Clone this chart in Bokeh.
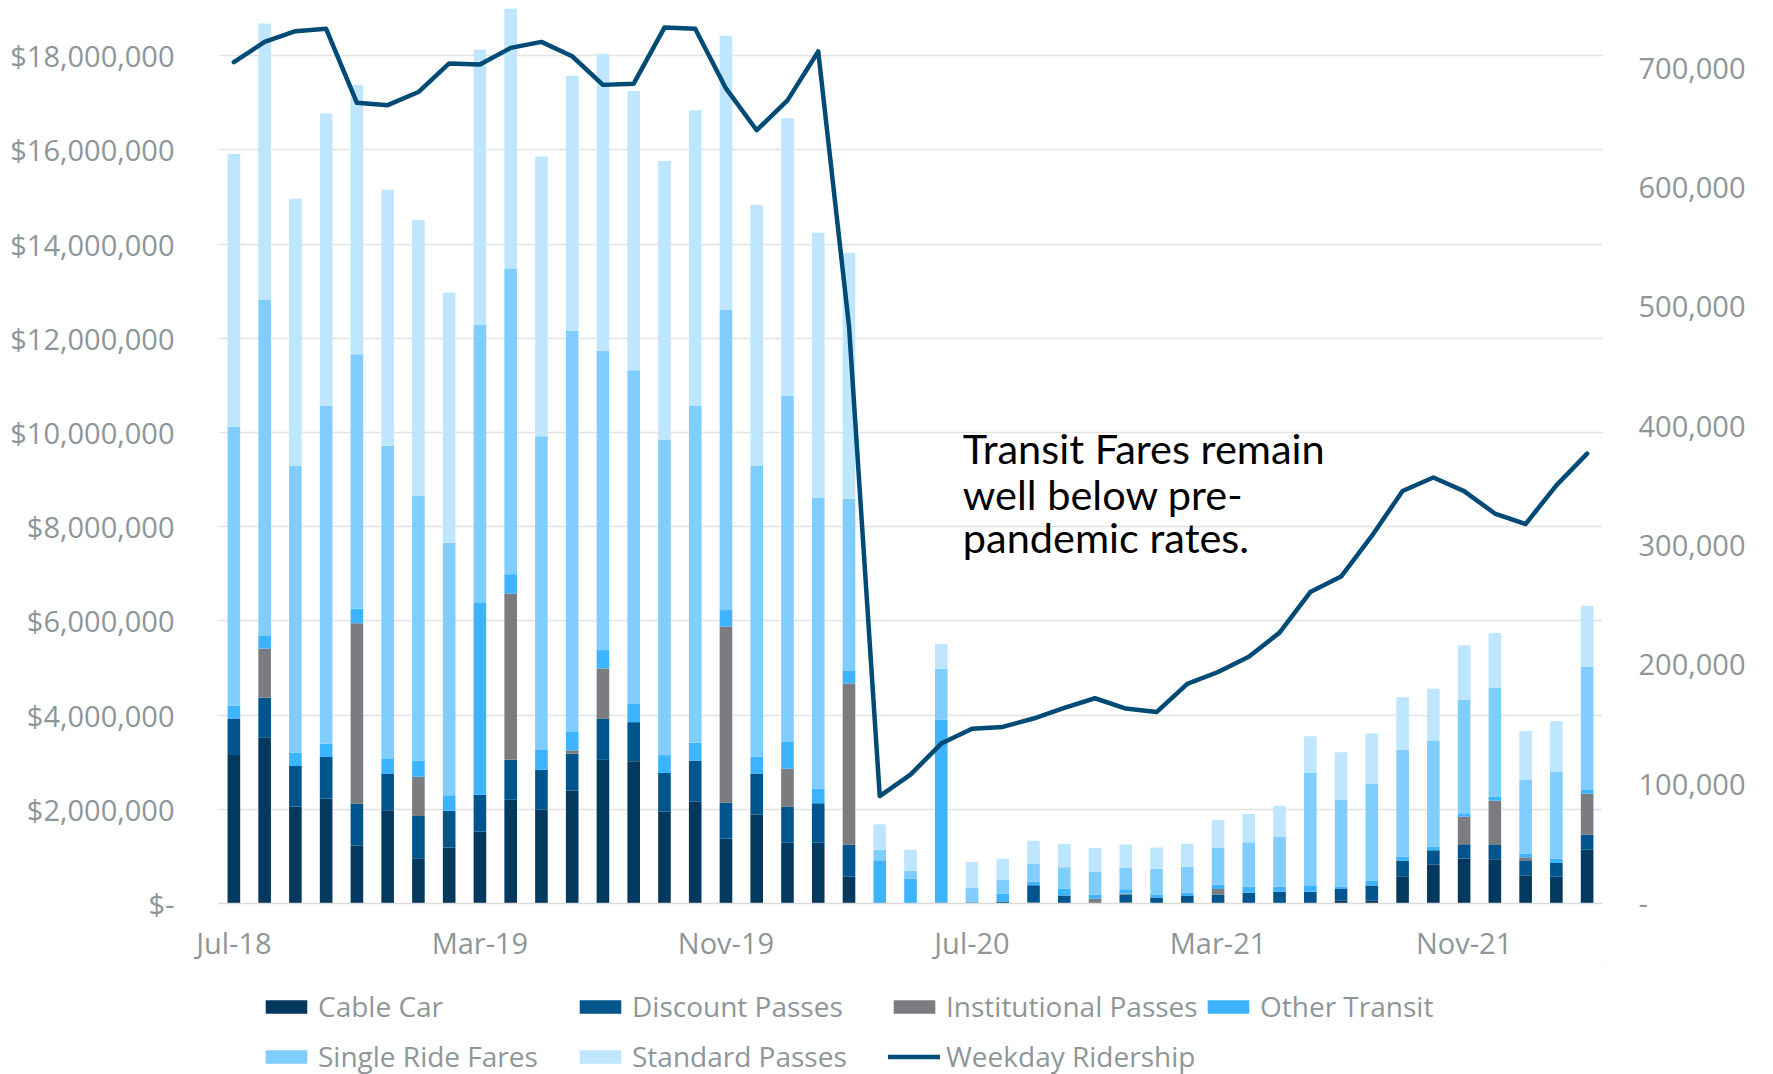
from bokeh.plotting import figure
from bokeh.layouts import column
from bokeh.models import (ColumnDataSource, Range1d, LinearAxis, FixedTicker,
                          NumeralTickFormatter, Legend, LegendItem, Label)
from bokeh.core.properties import value
from bokeh.embed import file_html
from bokeh.resources import INLINE

# ---------------- data ----------------
months = ["Jul-18", "Aug-18", "Sep-18", "Oct-18", "Nov-18", "Dec-18",
          "Jan-19", "Feb-19", "Mar-19", "Apr-19", "May-19", "Jun-19",
          "Jul-19", "Aug-19", "Sep-19", "Oct-19", "Nov-19", "Dec-19",
          "Jan-20", "Feb-20", "Mar-20", "Apr-20", "May-20", "Jun-20",
          "Jul-20", "Aug-20", "Sep-20", "Oct-20", "Nov-20", "Dec-20",
          "Jan-21", "Feb-21", "Mar-21", "Apr-21", "May-21", "Jun-21",
          "Jul-21", "Aug-21", "Sep-21", "Oct-21", "Nov-21", "Dec-21",
          "Jan-22", "Feb-22", "Mar-22"]

tick_labels = ["Jul-18", "Mar-19", "Nov-19", "Jul-20", "Mar-21", "Nov-21"]

# monthly fare revenue, millions of dollars
cable_car = [3.15, 3.53, 2.06, 2.23, 1.23, 1.98, 0.96, 1.19, 1.53, 2.20, 1.99, 2.40,
             3.05, 3.02, 1.95, 2.16, 1.38, 1.89, 1.29, 1.29, 0.57, 0.00, 0.00, 0.02,
             0.00, 0.00, 0.02, 0.00, 0.00, 0.02, 0.00, 0.00, 0.00, 0.00, 0.00, 0.00,
             0.06, 0.06, 0.58, 0.82, 0.95, 0.94, 0.59, 0.57, 1.14]
discount_passes = [0.78, 0.84, 0.86, 0.88, 0.89, 0.77, 0.90, 0.78, 0.78, 0.85, 0.85, 0.78,
                   0.88, 0.83, 0.82, 0.87, 0.76, 0.87, 0.77, 0.84, 0.68, 0.00, 0.00, 0.00,
                   0.02, 0.04, 0.37, 0.17, 0.00, 0.17, 0.13, 0.16, 0.19, 0.23, 0.25, 0.25,
                   0.25, 0.32, 0.33, 0.31, 0.31, 0.30, 0.31, 0.29, 0.32]
institutional_passes = [0.00, 1.04, 0.00, 0.00, 3.83, 0.00, 0.83, 0.00, 0.00, 3.53, 0.00, 0.07,
                        1.06, 0.00, 0.00, 0.00, 3.74, 0.00, 0.80, 0.00, 3.42, 0.00, 0.00, 0.00,
                        0.00, 0.00, 0.00, 0.00, 0.10, 0.02, 0.00, 0.00, 0.12, 0.00, 0.00, 0.00,
                        0.00, 0.00, 0.00, 0.00, 0.58, 0.94, 0.08, 0.00, 0.87]
other_transit = [0.27, 0.27, 0.28, 0.28, 0.31, 0.32, 0.34, 0.33, 4.07, 0.41, 0.42, 0.39,
                 0.39, 0.40, 0.38, 0.38, 0.35, 0.36, 0.57, 0.31, 0.28, 0.92, 0.53, 3.88,
                 0.02, 0.17, 0.07, 0.15, 0.09, 0.09, 0.06, 0.07, 0.09, 0.13, 0.11, 0.14,
                 0.05, 0.10, 0.09, 0.08, 0.06, 0.09, 0.08, 0.09, 0.08]
single_ride_fares = [5.92, 7.13, 6.09, 7.18, 5.40, 6.65, 5.63, 5.36, 5.91, 6.49, 6.66, 8.52,
                     6.36, 7.07, 6.69, 7.16, 6.38, 6.17, 7.35, 6.17, 3.64, 0.22, 0.16, 1.08,
                     0.30, 0.29, 0.39, 0.45, 0.49, 0.46, 0.54, 0.55, 0.79, 0.94, 1.06, 2.38,
                     1.85, 2.07, 2.26, 2.24, 2.42, 2.31, 1.57, 1.84, 2.61]
standard_passes = [5.79, 5.87, 5.67, 6.20, 5.72, 5.43, 5.85, 5.31, 5.84, 5.52, 5.94, 5.41,
                   6.30, 5.93, 5.92, 6.27, 5.81, 5.54, 5.89, 5.63, 5.22, 0.54, 0.45, 0.53,
                   0.54, 0.45, 0.48, 0.50, 0.50, 0.49, 0.46, 0.49, 0.58, 0.60, 0.65, 0.78,
                   1.00, 1.06, 1.12, 1.11, 1.16, 1.16, 1.03, 1.08, 1.30]

weekday_ridership = [705000, 722000, 731000, 733000, 671000, 669000, 680000, 704000, 703000,
                     717000, 722000, 710000, 686000, 687000, 734000, 733000, 683000, 648000,
                     673000, 714000, 484000, 90000, 108000, 134000, 146500, 148000, 155000,
                     164000, 172000, 163400, 160400, 184000, 194000, 206700, 227000, 261000,
                     274000, 308000, 345700, 357000, 345600, 326800, 318000, 350400, 377000]

series_names = ["Cable Car", "Discount Passes", "Institutional Passes",
                "Other Transit", "Single Ride Fares", "Standard Passes"]
series_keys = ["cable", "discount", "institutional", "other", "single", "standard"]
series_values = [cable_car, discount_passes, institutional_passes,
                 other_transit, single_ride_fares, standard_passes]
colors = ["#03395E", "#00558C", "#7B7C80", "#3DB4FF", "#80CDFF", "#BFE6FF"]
line_color = "#004A76"
text_grey = "#8E9699"

n = len(months)
data = {"x": list(range(n)), "ride": weekday_ridership}
for k, vals in zip(series_keys, series_values):
    data[k] = [v * 1_000_000 for v in vals]
src = ColumnDataSource(data)

W = 1768
H_MAIN = 965
H_LEG = 1074 - H_MAIN

# ---------------- main chart ----------------
p = figure(width=W, height=H_MAIN, output_backend="svg", toolbar_location=None,
           x_range=Range1d(-0.5, n - 0.5), y_range=Range1d(0, 19_000_000),
           min_border_left=218, min_border_right=166, min_border_top=8,
           min_border_bottom=62)
p.outline_line_color = None
p.background_fill_color = "white"
p.border_fill_color = "white"

p.extra_y_ranges = {"ride": Range1d(0, 750_000)}

# left axis
p.yaxis.ticker = FixedTicker(ticks=[i * 2_000_000 for i in range(10)])
p.yaxis.formatter = NumeralTickFormatter(format="$0,0")
p.yaxis.major_label_overrides = {0: "$-"}
p.yaxis.axis_line_color = None
p.yaxis.major_tick_line_color = None
p.yaxis.minor_tick_line_color = None
p.yaxis.major_label_standoff = 38
p.yaxis.major_label_text_font = "Open Sans"
p.yaxis.major_label_text_font_size = "29px"
p.yaxis.major_label_text_color = text_grey

p.ygrid.grid_line_color = "#E3E3E3"
p.ygrid.grid_line_width = 1.5
p.xgrid.grid_line_color = None

# right axis
rax = LinearAxis(y_range_name="ride",
                 ticker=FixedTicker(ticks=[i * 100_000 for i in range(8)]),
                 formatter=NumeralTickFormatter(format="0,0"))
rax.major_label_overrides = {0: "-"}
rax.axis_line_color = None
rax.major_tick_line_color = None
rax.minor_tick_line_color = None
rax.major_label_standoff = 30
rax.major_label_text_font = "Open Sans"
rax.major_label_text_font_size = "29px"
rax.major_label_text_color = text_grey
p.add_layout(rax, "right")

# bottom axis
tick_pos = [months.index(m) for m in tick_labels]
p.xaxis.ticker = FixedTicker(ticks=tick_pos)
p.xaxis.major_label_overrides = {i: months[i] for i in tick_pos}
p.xaxis.axis_line_color = "#DADADA"
p.xaxis.axis_line_width = 1.5
p.xaxis.major_tick_line_color = None
p.xaxis.minor_tick_line_color = None
p.xaxis.major_label_standoff = 13
p.xaxis.major_label_text_font = "Open Sans"
p.xaxis.major_label_text_font_size = "29px"
p.xaxis.major_label_text_color = text_grey

# bars
bars = p.vbar_stack(series_keys, x="x", width=0.41, source=src,
                    fill_color=colors, line_color=None)

# ridership line
ride_line = p.line("x", "ride", source=src, y_range_name="ride",
                   line_width=4.5, line_color=line_color,
                   line_join="round", line_cap="round")

# annotation
note_lines = ["Transit Fares remain", "well below pre-", "pandemic rates."]
note_y = [9_660_000, 8_700_000, 7_770_000]
for txt, yy in zip(note_lines, note_y):
    p.add_layout(Label(x=23.7, y=yy, text=txt,
                       text_font="Lato", text_font_size="41.5px",
                       text_color="#000000",
                       text_align="left", text_baseline="alphabetic"))

# ---------------- legend strip ----------------
lg = figure(width=W, height=H_LEG, output_backend="svg", toolbar_location=None,
            x_axis_type=None, y_axis_type=None,
            x_range=Range1d(0, 1), y_range=Range1d(0, 1),
            min_border_left=0, min_border_right=0, min_border_top=0,
            min_border_bottom=0)
lg.outline_line_color = None
lg.background_fill_color = "white"
lg.border_fill_color = "white"

# legend key glyphs (kept outside the visible range of this strip)
swatches = [lg.vbar(x=[5], top=[5], bottom=[4], width=0.5, fill_color=c, line_color=None)
            for c in colors]
line_swatch = lg.line(x=[5, 6], y=[5, 5], line_width=4.5, line_color=line_color,
                      line_cap="round")

def legend_row(items, y_off):
    return Legend(items=items, orientation="horizontal", location=(42, y_off),
                  glyph_width=52, glyph_height=17, label_standoff=6,
                  label_width=256, label_height=40, spacing=0,
                  padding=0, margin=0,
                  border_line_color=None, background_fill_alpha=0,
                  label_text_font="Open Sans", label_text_font_size="28px",
                  label_text_color=text_grey)

row1 = [LegendItem(label=value(series_names[i]), renderers=[swatches[i]]) for i in range(4)]
row2 = [LegendItem(label=value(series_names[i]), renderers=[swatches[i]]) for i in range(4, 6)]
row2.append(LegendItem(label=value("Weekday Ridership"), renderers=[line_swatch]))

lg.add_layout(legend_row(row1, 48))
lg.add_layout(legend_row(row2, -2))

page = column(p, lg, spacing=0)
open("out.html", "w").write(file_html(page, INLINE))
